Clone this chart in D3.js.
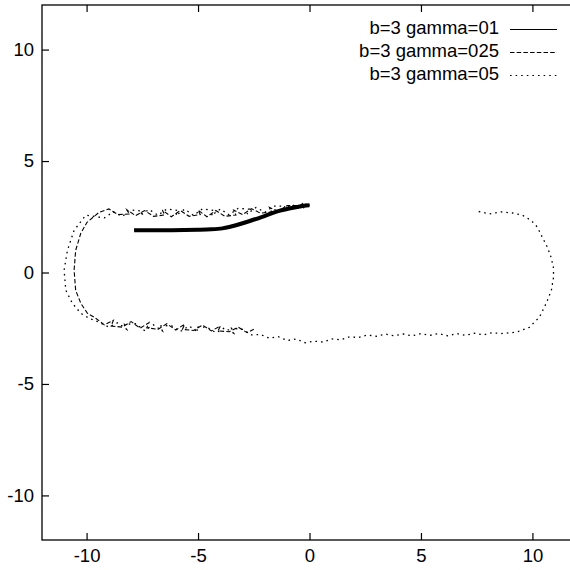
<!DOCTYPE html>
<html>
<head>
<meta charset="utf-8">
<script src="https://cdn.jsdelivr.net/npm/d3@7"></script>
<style>
  body { margin: 0; background: #fff; }
  svg { display: block; }
  text { font-family: "Liberation Sans", Arial, Helvetica, sans-serif; font-size: 18.5px; fill: #000; }
</style>
</head>
<body>
<svg id="chart" width="570" height="570"></svg>
<script>
// tick values for both axes
var xTicks = [-10, -5, 0, 5, 10];
var yTicks = [-10, -5, 0, 5, 10];

var seriesNames = ["b=3 gamma=01", "b=3 gamma=025", "b=3 gamma=05"];

// b=3 gamma=01 (solid)
var gamma01 = [
    [-7.87, 1.89], [-7.4, 1.90], [-6.8, 1.89], [-6.2, 1.90], [-5.6, 1.91], [-5.0, 1.92],
    [-4.4, 1.94], [-3.91, 1.98], [-3.6, 2.04], [-3.30, 2.12], [-2.71, 2.30], [-2.12, 2.50],
    [-1.51, 2.72], [-0.91, 2.87], [-0.45, 2.96], [-0.16, 3.01], [0.0, 3.02]
];

// b=3 gamma=025 (dashed)
var gamma025 = [
    [0.0, 3.02], [-0.3, 3.10], [-0.6, 2.88], [-0.5, 3.0], [-1.0, 3.0], [-1.4, 2.75], [-1.8, 2.92],
    [-1.7, 2.72], [-2.2, 2.66], [-2.6, 2.86], [-3.0, 2.60], [-3.4, 2.80], [-3.3, 2.58], [-3.8, 2.52],
    [-4.2, 2.78], [-4.6, 2.50], [-5.0, 2.80], [-4.9, 2.60], [-5.4, 2.52], [-5.8, 2.78], [-6.2, 2.50],
    [-6.6, 2.80], [-6.5, 2.58], [-7.0, 2.52], [-7.4, 2.78], [-7.8, 2.55], [-8.2, 2.82], [-8.1, 2.62],
    [-8.6, 2.60], [-9.0, 2.85], [-9.44, 2.70], [-9.98, 2.25], [-10.26, 1.76], [-10.49, 0.99],
    [-10.56, 0.10], [-10.49, -0.80], [-10.26, -1.38], [-9.96, -1.83], [-9.59, -2.05], [-9.2, -2.35],
    [-8.8, -2.15], [-8.9, -2.40], [-8.4, -2.45], [-8.0, -2.20], [-7.6, -2.50], [-7.2, -2.25],
    [-7.3, -2.48], [-6.8, -2.55], [-6.4, -2.30], [-6.0, -2.58], [-5.6, -2.32], [-5.7, -2.55],
    [-5.2, -2.60], [-4.8, -2.36], [-4.4, -2.62], [-4.0, -2.40], [-4.1, -2.62], [-3.6, -2.66],
    [-3.2, -2.45], [-2.8, -2.70], [-2.5, -2.55]
];

// b=3 gamma=05 (dotted)
var gamma05 = [
    [0.0, 3.02], [-0.4, 2.85], [-0.8, 3.05], [-1.2, 2.78], [-1.1, 2.98], [-1.6, 2.98], [-2.0, 2.70],
    [-2.4, 2.92], [-2.8, 2.62], [-2.7, 2.84], [-3.2, 2.88], [-3.6, 2.58], [-4.0, 2.85], [-4.4, 2.55],
    [-4.3, 2.78], [-4.8, 2.86], [-5.2, 2.56], [-5.6, 2.84], [-6.0, 2.55], [-5.9, 2.78], [-6.4, 2.85],
    [-6.8, 2.57], [-7.2, 2.83], [-7.6, 2.55], [-7.5, 2.76], [-8.0, 2.80], [-8.4, 2.52], [-8.8, 2.72],
    [-9.2, 2.45], [-10.04, 2.57], [-10.56, 1.89], [-10.86, 0.99], [-11.01, 0.10], [-10.93, -0.80],
    [-10.64, -1.38], [-10.26, -1.83], [-9.89, -2.05], [-9.44, -2.23], [-9.0, -2.45], [-8.6, -2.25],
    [-8.2, -2.55], [-8.3, -2.32], [-7.8, -2.30], [-7.4, -2.60], [-7.0, -2.35], [-6.6, -2.62],
    [-6.7, -2.40], [-6.2, -2.38], [-5.8, -2.65], [-5.4, -2.40], [-5.0, -2.68], [-5.1, -2.45],
    [-4.6, -2.45], [-4.2, -2.70], [-3.8, -2.48], [-3.4, -2.72], [-3.5, -2.50], [-3.0, -2.55],
    [-2.6, -2.80], [-2.2, -2.78], [-1.8, -2.95], [-1.4, -2.88], [-1.0, -3.05], [-0.6, -2.98],
    [-0.2, -3.15], [0.2, -3.08], [0.6, -3.12], [1.0, -2.98], [1.4, -3.02], [1.8, -2.88],
    [2.2, -2.92], [2.6, -2.80], [3.0, -2.86], [3.4, -2.76], [3.8, -2.84], [4.2, -2.76],
    [4.6, -2.84], [5.0, -2.74], [5.4, -2.82], [5.8, -2.74], [6.2, -2.84], [6.6, -2.74],
    [7.0, -2.82], [7.4, -2.72], [7.8, -2.80], [8.2, -2.70], [8.6, -2.74], [9.28, -2.68],
    [9.86, -2.46], [10.31, -2.01], [10.62, -1.38], [10.85, -0.80], [10.95, -0.20], [10.94, 0.25],
    [10.83, 0.70], [10.67, 1.14], [10.44, 1.59], [10.22, 2.04], [9.94, 2.34], [9.55, 2.57],
    [9.10, 2.67], [8.59, 2.72], [8.07, 2.63], [7.53, 2.75]
];

var margin = {top: 5, left: 42};
var plotW = 535, plotH = 535;

var svg = d3.select("#chart");

var xScale = d3.scaleLinear().domain([-12, 12]).range([margin.left, margin.left + plotW]);
var yScale = d3.scaleLinear().domain([-12, 12]).range([margin.top + plotH, margin.top]);

// plain hyphen for negatives, like the original
var fmt = d => String(d);

// axes (gnuplot style: ticks inward, mirrored)
var xAxis = d3.axisBottom(xScale).tickValues(xTicks).tickSizeInner(-7).tickSizeOuter(0).tickPadding(9).tickFormat(fmt);
var xAxisTop = d3.axisTop(xScale).tickValues(xTicks).tickSizeInner(-7).tickSizeOuter(0).tickFormat("");
var yAxis = d3.axisLeft(yScale).tickValues(yTicks).tickSizeInner(-7).tickSizeOuter(0).tickPadding(8).tickFormat(fmt);

svg.append("g")
    .attr("transform", "translate(0," + (margin.top + plotH) + ")")
    .call(xAxis);
svg.append("g")
    .attr("transform", "translate(0," + margin.top + ")")
    .call(xAxisTop);
svg.append("g")
    .attr("transform", "translate(" + margin.left + ",0)")
    .call(yAxis);

svg.selectAll(".domain").remove();
svg.selectAll(".tick line").attr("stroke", "#000").attr("stroke-width", 1.2);
svg.selectAll(".tick text").attr("font-size", 18.5).attr("font-family", null);

// frame
svg.append("rect")
    .attr("x", margin.left)
    .attr("y", margin.top)
    .attr("width", plotW)
    .attr("height", plotH)
    .attr("fill", "none")
    .attr("stroke", "#000")
    .attr("stroke-width", 1.3);

var line = d3.line()
    .x(d => xScale(d[0]))
    .y(d => yScale(d[1]));

var smoothLine = d3.line()
    .curve(d3.curveCatmullRom)
    .x(d => xScale(d[0]))
    .y(d => yScale(d[1]));

var styles = [
    {data: gamma01, dash: null, width: 4, gen: smoothLine},
    {data: gamma025, dash: "4.5,2.2", width: 1.1, gen: line},
    {data: gamma05, dash: "1.6,4", width: 1.3, gen: line}
];

styles.forEach(function (s) {
    svg.append("path")
        .datum(s.data)
        .attr("fill", "none")
        .attr("stroke", "#000")
        .attr("stroke-width", s.width)
        .attr("stroke-dasharray", s.dash)
        .attr("d", s.gen);
});

// legend
var legend = svg.append("g").attr("class", "legend");
var legendY = [34, 57, 80];
seriesNames.forEach(function (name, i) {
    legend.append("text")
        .attr("x", 499)
        .attr("y", legendY[i])
        .attr("text-anchor", "end")
        .text(name);
    legend.append("line")
        .attr("x1", 510)
        .attr("x2", 557)
        .attr("y1", legendY[i] - 4.5)
        .attr("y2", legendY[i] - 4.5)
        .attr("stroke", "#000")
        .attr("stroke-width", 1)
        .attr("stroke-dasharray", i == 0 ? null : styles[i].dash);
});
</script>
</body>
</html>
